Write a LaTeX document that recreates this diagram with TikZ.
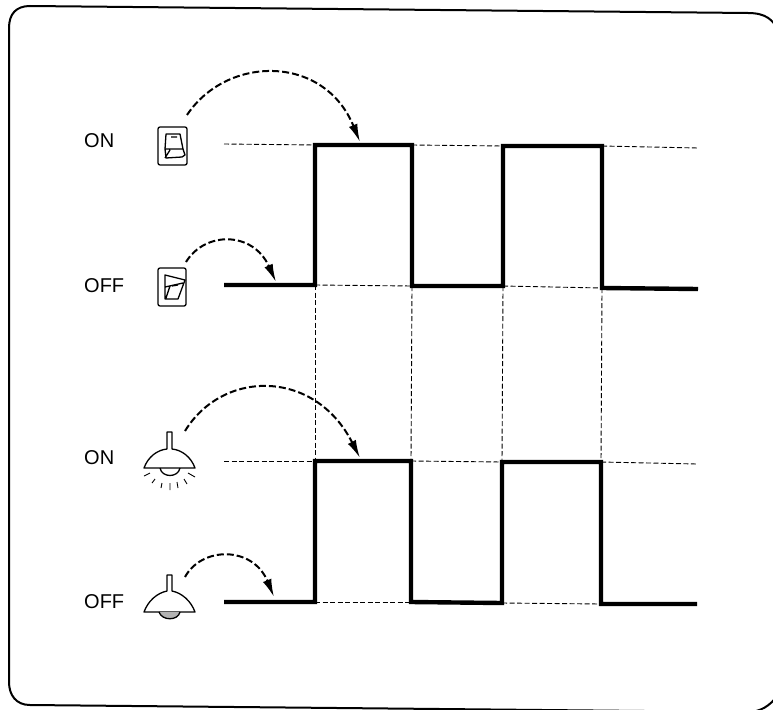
\documentclass[tikz,border=0pt]{standalone}
\usepackage{fontspec}
\setmainfont{Liberation Sans}
\usepackage{tikz}
\usetikzlibrary{positioning,arrows.meta,calc}
\tikzset{
  signal/.style={line width=4.4pt,line join=miter,line cap=butt},
  guide/.style={dashed,dash pattern=on 5pt off 2.5pt,line width=0.9pt},
  cause/.style={dashed,dash pattern=on 7pt off 3pt,line width=2pt,-{Latex[length=18pt,width=9pt]}},
  state/.style={inner sep=0pt,font=\fontsize{20}{20}\selectfont,anchor=west},
  icon/.style={line width=1.3pt,line join=round}
}
\begin{document}
\begin{tikzpicture}[x=1pt,y=-1pt]
\useasboundingbox (0,0) rectangle (773,709);
% frame
\draw[line width=2pt] (9,28) .. controls (9,14) and (16,6) .. (30,6) -- (748,13) .. controls (766,13) and (773,20) .. (778,30) -- (778,695) .. controls (770,706) and (760,712) .. (748,712) -- (30,705) .. controls (16,705) and (9,695) .. (9,682) -- cycle;
% labels
\node[state] (on1) at (84,141) {ON};
\node[state] (off1) at (84,286) {OFF};
\node[state] (on2) at (84,458) {ON};
\node[state] (off2) at (84,602) {OFF};
% upper signal
\coordinate (a0) at (224,285); \coordinate (a1) at (315,285); \coordinate (a2) at (315,145);
\coordinate (a3) at (412,145); \coordinate (a4) at (412,286); \coordinate (a5) at (503,286);
\coordinate (a6) at (503,146); \coordinate (a7) at (602,146); \coordinate (a8) at (602,288);
\coordinate (a9) at (698,289);
\draw[guide] (224,144) -- (a2);
\draw[guide] (a3) -- (a6);
\draw[guide] (a7) -- (698,148);
\draw[guide] (a1) -- (a4);
\draw[guide] (a5) -- (a8);
% lower signal
\coordinate (b0) at (224,602); \coordinate (b1) at (315,602); \coordinate (b2) at (315,461);
\coordinate (b3) at (411,461); \coordinate (b4) at (411,602); \coordinate (b5) at (502,603);
\coordinate (b6) at (502,462); \coordinate (b7) at (601,462); \coordinate (b8) at (601,604);
\coordinate (b9) at (697,604);
\draw[guide] (224,461) -- (b2);
\draw[guide] (b3) -- (b6);
\draw[guide] (b7) -- (697,464);
\draw[guide] (b1) -- (b4);
\draw[guide] (b5) -- (b8);
% verticals
\draw[guide] (a1) -- (b2);
\draw[guide] (a4) -- (b3);
\draw[guide] (a5) -- (b6);
\draw[guide] (a8) -- (b7);
\draw[signal] (a0) -- (a1) -- (a2) -- (a3) -- (a4) -- (a5) -- (a6) -- (a7) -- (a8) -- (a9);
\draw[signal] (b0) -- (b1) -- (b2) -- (b3) -- (b4) -- (b5) -- (b6) -- (b7) -- (b8) -- (b9);
% switch on
\draw[icon,rounded corners=2pt] (158,127) rectangle (187,165);
\draw[icon] (166,134) -- (180,134) -- (183,149) -- (185,155) -- (182,157) -- (166,158) -- (165,149) -- cycle (165,149) -- (183,149) (165,158) -- (170,150) (171,137) -- (177,137);
% switch off
\draw[icon,rounded corners=2pt] (158,268) rectangle (186,306);
\draw[icon] (165,275) -- (185,280) -- (178,299) -- (165,299) -- cycle (165,287) -- (183,283) (172,286) -- (178,285) (170,286) -- (166,298);
% lamp on
\draw[icon] (144,468) .. controls (148,457) and (157,450) .. (167,449) -- (167,432) -- (172,432) -- (172,449) .. controls (182,450) and (191,457) .. (195,468) -- cycle;
\draw[icon] (160,468) .. controls (162,478) and (178,478) .. (180,468);
\draw[line width=0.9pt] (144,476) -- (150,473) (152,483) -- (155,479) (161,488) -- (162,483) (170,490) -- (170,483) (178,488) -- (177,482) (187,484) -- (184,479) (195,477) -- (188,473);
% lamp off
\draw[icon] (144,612) .. controls (148,601) and (157,593) .. (167,591) -- (167,575) -- (172,575) -- (172,591) .. controls (182,593) and (191,601) .. (195,612) -- cycle;
\draw[icon,fill=gray!60] (159,612) .. controls (162,621) and (178,621) .. (180,612);
% arrows
\coordinate (s1) at (187,115); \coordinate (s2) at (186,262);
\coordinate (s3) at (185,431); \coordinate (s4) at (185,577);
\draw[cause] (s1) .. controls (227,55) and (324,54) .. (360,142);
\draw[cause] (s2) .. controls (205,231) and (253,231) .. (276,282);
\draw[cause] (s3) .. controls (223,369) and (315,369) .. (360,458);
\draw[cause] (s4) .. controls (202,546) and (253,546) .. (274,597);
\end{tikzpicture}
\end{document}
